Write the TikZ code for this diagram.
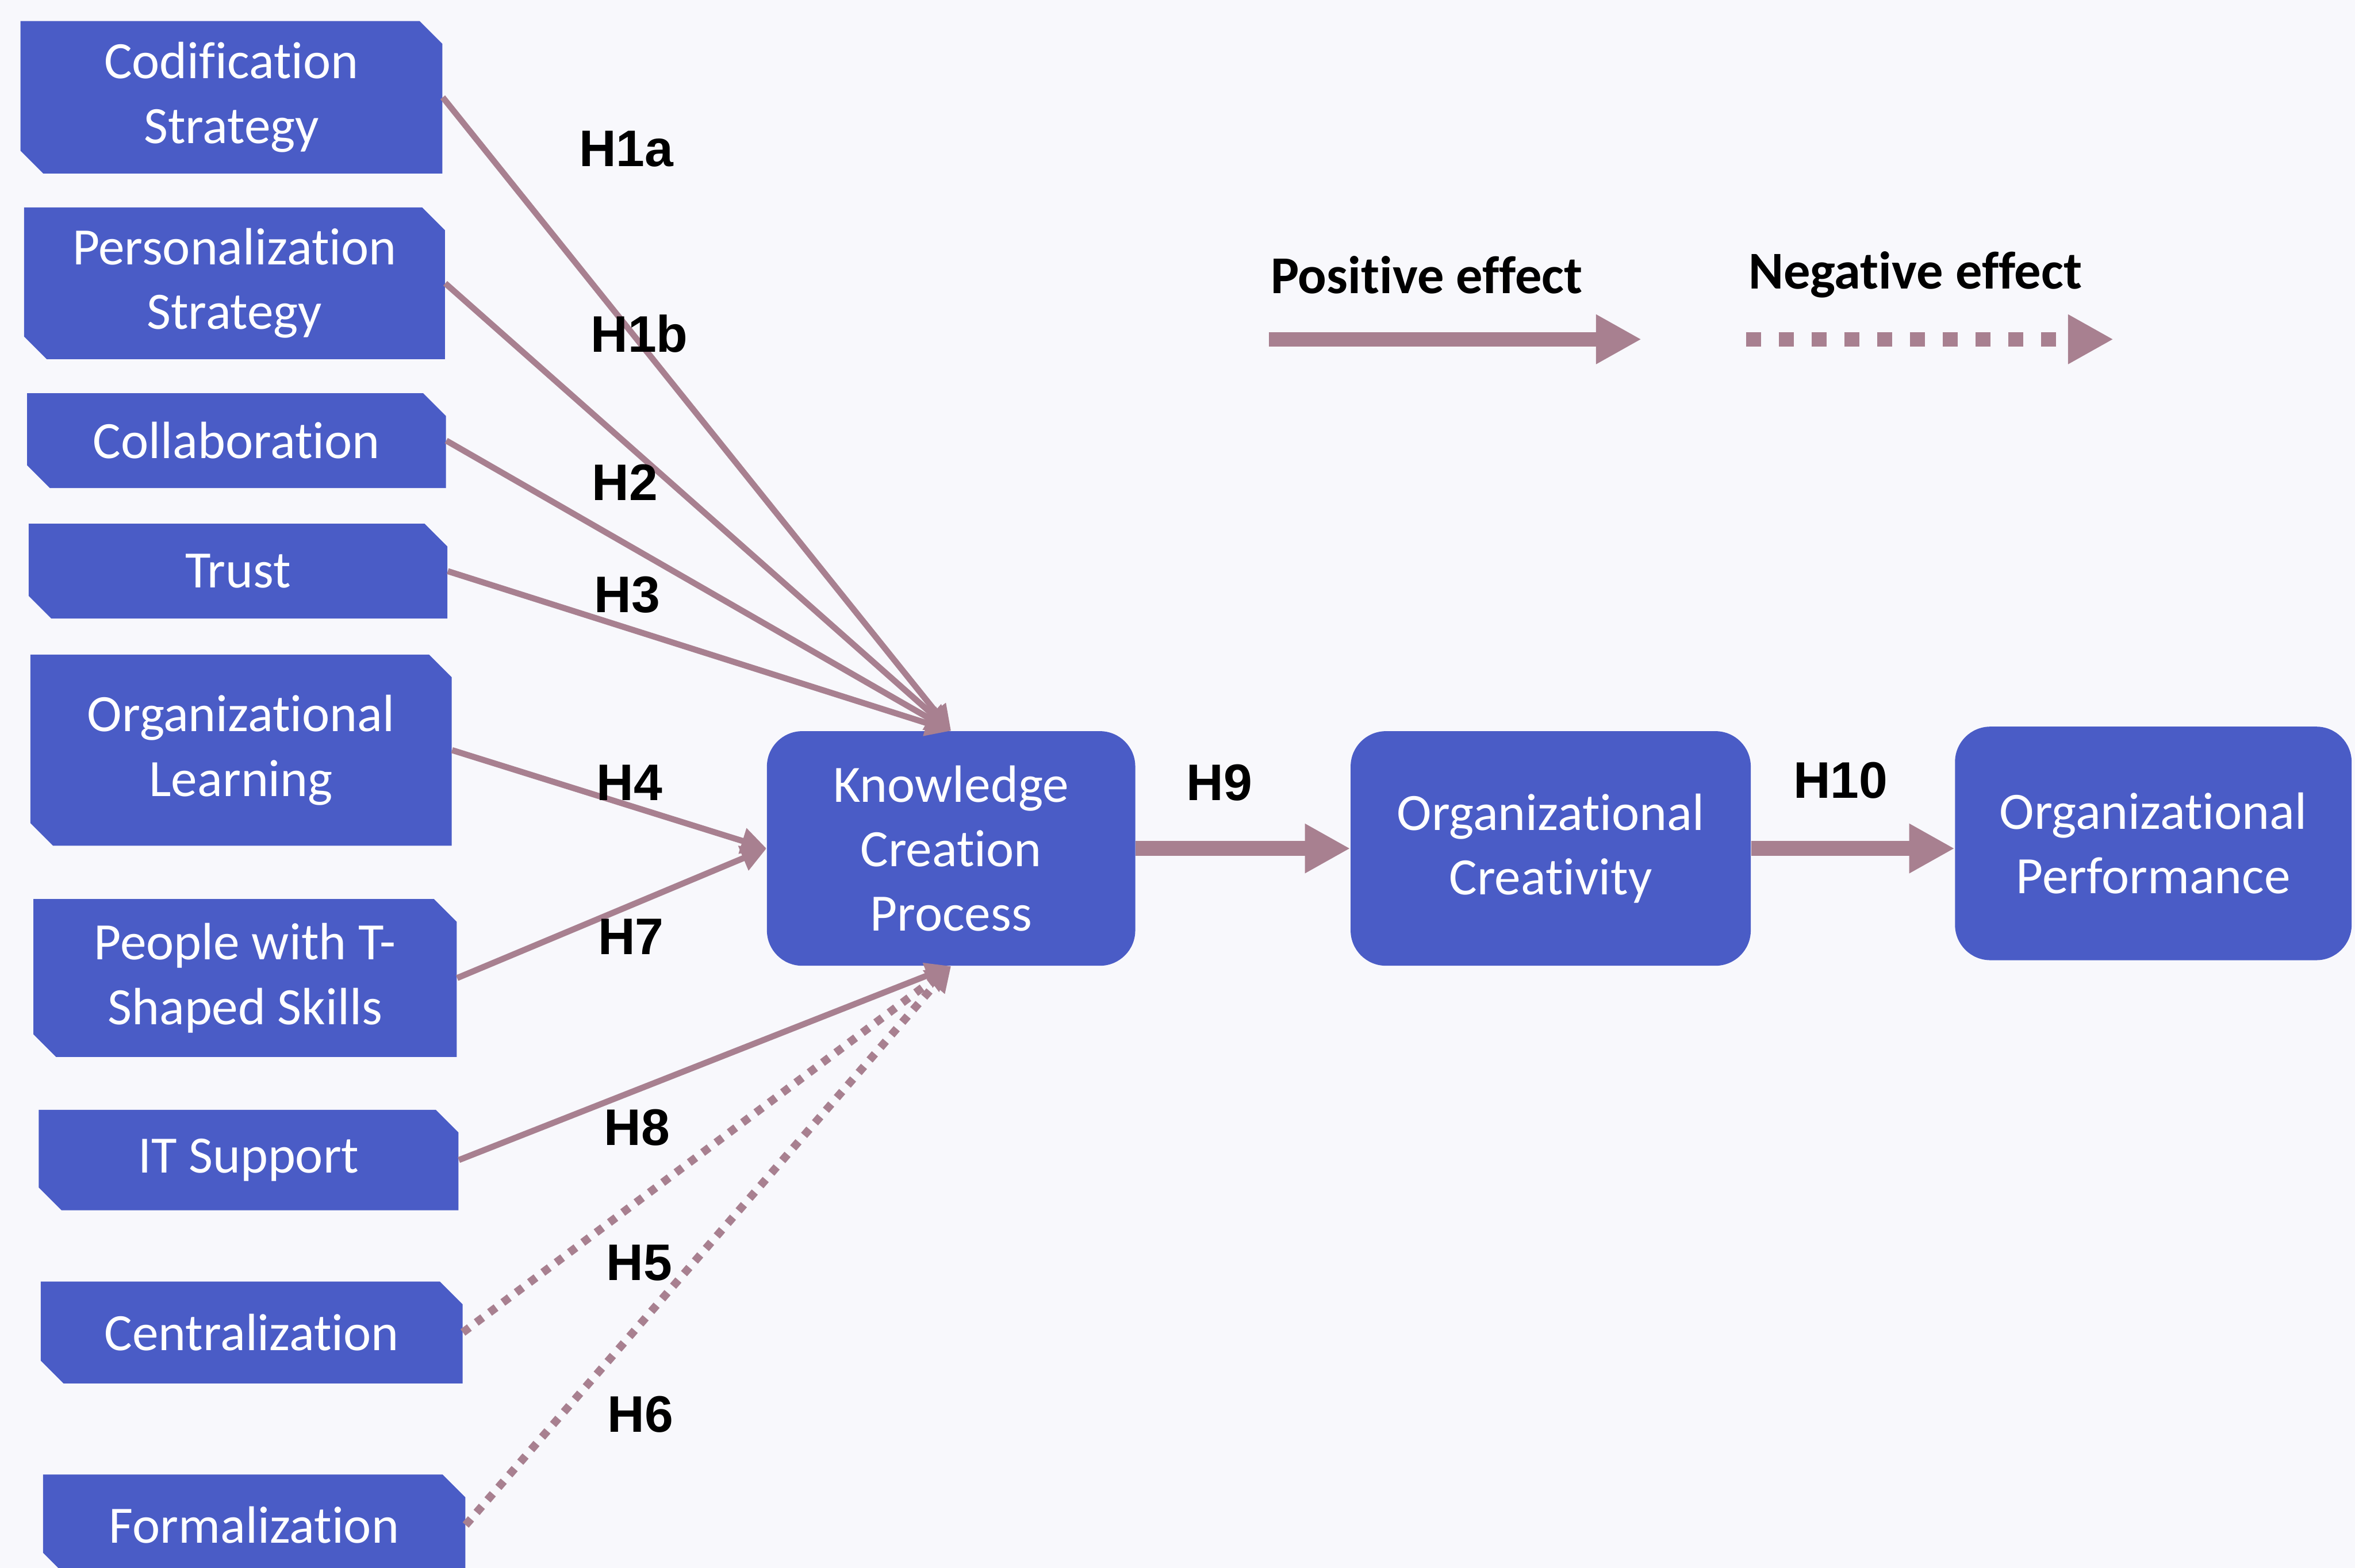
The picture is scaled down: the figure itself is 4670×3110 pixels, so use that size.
\documentclass[tikz,border=0pt]{standalone}
\usepackage{fontspec}
\setmainfont{Carlito}[Ligatures=NoCommon]
\newfontfamily\hlabelfont{Liberation Sans}
\usetikzlibrary{arrows.meta,calc}
\definecolor{boxblue}{HTML}{4A5CC6}
\definecolor{linkmauve}{HTML}{A88090}
\definecolor{paper}{HTML}{F8F8FC}

\begin{document}
\begin{tikzpicture}[x=0.01cm,y=-0.01cm,
  boxtext/.style={text=white, align=center, inner sep=0pt,
    font=\fontsize{29.6}{36.4}\selectfont},
  snipbox/.style={boxtext,
    path picture={\fill[boxblue]
      ([xshift=-0.45cm]path picture bounding box.north east)
      -- (path picture bounding box.north west)
      -- ([yshift=0.45cm]path picture bounding box.south west)
      -- ([xshift=0.45cm]path picture bounding box.south west)
      -- (path picture bounding box.south east)
      -- ([yshift=-0.45cm]path picture bounding box.north east)
      -- cycle;}},
  roundbox/.style={boxtext, fill=boxblue, rounded corners=0.7cm},
  link/.style={draw=linkmauve, line width=0.12cm,
    -{Triangle[length=0.5cm,width=0.5cm]}},
  neglink/.style={link, line width=0.16cm, dash pattern=on 0.16cm off 0.17cm},
  mainlink/.style={draw=linkmauve, line width=0.29cm,
    -{Triangle[length=0.9cm,width=0.92cm]}},
  hyp/.style={font=\hlabelfont\bfseries\fontsize{29}{34}\selectfont},
  legendtext/.style={font=\bfseries\fontsize{30}{36}\selectfont}
]
\useasboundingbox (0,0) rectangle (4670,3110);
\fill[paper] (0,0) rectangle (4670,3110);
\clip (0,0) rectangle (4670,3110);

% antecedent factors
\node[snipbox, minimum width=8.36cm, minimum height=3.02cm] (cod)   at (459,193)  {Codification\\Strategy};
\node[snipbox, minimum width=8.34cm, minimum height=3.01cm] (pers)  at (465,562)  {Personalization\\Strategy};
\node[snipbox, minimum width=8.30cm, minimum height=1.88cm] (coll)  at (469,874)  {Collaboration};
\node[snipbox, minimum width=8.30cm, minimum height=1.88cm] (trust) at (472,1133) {Trust};
\node[snipbox, minimum width=8.35cm, minimum height=3.79cm] (orgl)  at (478,1488) {Organizational\\Learning};
\node[snipbox, minimum width=8.39cm, minimum height=3.13cm] (ppl)   at (486,1940) {People with T-\\Shaped Skills};
\node[snipbox, minimum width=8.32cm, minimum height=1.99cm] (its)   at (493,2301) {IT Support};
\node[snipbox, minimum width=8.36cm, minimum height=2.02cm] (cent)  at (499,2643) {Centralization};
\node[snipbox, minimum width=8.37cm, minimum height=2.00cm] (form)  at (504,3025) {Formalization};

% process chain
\node[roundbox, minimum width=7.30cm, minimum height=4.65cm] (kcp)   at (1886,1683) {Knowledge\\Creation\\Process};
\node[roundbox, minimum width=7.93cm, minimum height=4.65cm] (creat) at (3075,1683) {Organizational\\Creativity};
\node[roundbox, minimum width=7.86cm, minimum height=4.63cm] (perf)  at (4270,1673) {Organizational\\Performance};

% hypothesised effects
\draw[link] (cod.east)   -- (kcp.north);
\draw[link] (pers.east)  -- (kcp.north);
\draw[link] (coll.east)  -- (kcp.north);
\draw[link] (trust.east) -- (kcp.north);
\draw[link] (orgl.east)  -- (kcp.west);
\draw[link] (ppl.east)   -- (kcp.west);
\draw[neglink] (cent.east) -- (kcp.south);
\draw[neglink] (form.east) -- (kcp.south);
\draw[link] (its.east)   -- (kcp.south);
\draw[mainlink] (kcp.east) -- (creat.west);
\draw[mainlink] (creat.east) -- (creat.east -| perf.west);

% hypothesis labels
\node[hyp] (h1a) at (1242,296)  {H1a};
\node[hyp] (h1b) at (1268,662)  {H1b};
\node[hyp] (h2)  at (1239,957)  {H2};
\node[hyp] (h3)  at (1244,1180) {H3};
\node[hyp] (h4)  at (1248,1552) {H4};
\node[hyp] (h7)  at (1251,1858) {H7};
\node[hyp] (h8)  at (1263,2237) {H8};
\node[hyp] (h5)  at (1268,2505) {H5};
\node[hyp] (h6)  at (1270,2806) {H6};
\node[hyp] (h9)  at (2418,1553) {H9};
\node[hyp] (h10) at (3650,1548) {H10};

% legend
\node[legendtext] (postxt) at (2829,545) {Positive effect};
\node[legendtext] (negtxt) at (3798,545) {Negative effect};
\coordinate (posa) at (2516,673);
\coordinate (posb) at (3255,673);
\coordinate (nega) at (3462,673);
\coordinate (negb) at (4191,673);
\draw[mainlink] (posa) -- (posb);
\draw[mainlink, dash pattern=on 0.3cm off 0.35cm] (nega) -- (negb);
\end{tikzpicture}
\end{document}
